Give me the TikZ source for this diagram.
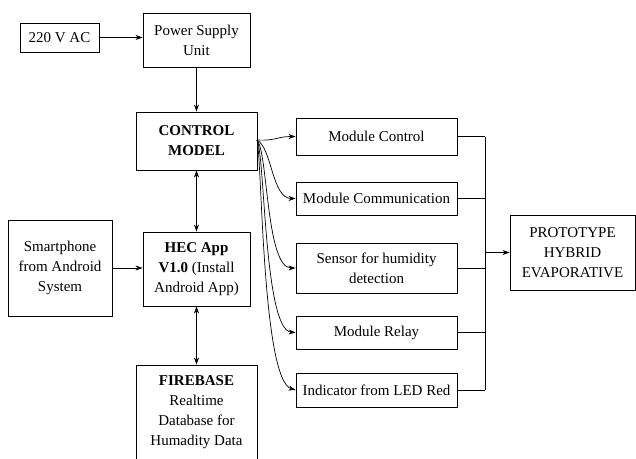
\documentclass[tikz,border=0pt]{standalone}
\usepackage{fontspec}
\setmainfont{Liberation Serif}
\usetikzlibrary{arrows.meta}
\begin{document}
\begin{tikzpicture}[x=1pt,y=-1pt,
    blok/.style={draw,line width=0.9pt,align=center,inner sep=1pt,
        font=\fontsize{15}{20}\selectfont},
    link/.style={line width=0.7pt,-{Stealth[length=7pt,width=5pt]}},
    bilink/.style={line width=0.7pt,{Stealth[length=7pt,width=5pt]}-{Stealth[length=7pt,width=5pt]}},
    bus/.style={line width=0.7pt}]
        \useasboundingbox (0,0) rectangle (636,458);
        % left column
        \node[blok,minimum width=79pt,minimum height=29pt] (ac) at (59.5,37.5) {220 V AC};
        \node[blok,minimum width=107pt,minimum height=54pt] (psu) at (196.5,40) {Power Supply\\Unit};
        \node[blok,minimum width=121pt,minimum height=58pt] (ctrl) at (196.5,141) {\textbf{CONTROL}\\\textbf{MODEL}};
        \node[blok,minimum width=107pt,minimum height=74pt] (hec) at (196.5,269) {\textbf{HEC App}\\\textbf{V1.0} (Install\\Android App)};
        \node[blok,minimum width=104pt,minimum height=96pt] (phone) at (60,268) {Smartphone\\from Android\\System};
        \node[blok,minimum width=121pt,minimum height=94pt] (fb) at (196.5,412) {\textbf{FIREBASE}\\Realtime\\Database for\\Humadity Data};
        % modules
        \node[blok,minimum width=161pt,minimum height=37pt] (mctl) at (376.5,136.5) {Module Control};
        \node[blok,minimum width=161pt,minimum height=33pt] (mcom) at (376.5,198.5) {Module Communication};
        \node[blok,minimum width=161pt,minimum height=50pt] (sens) at (376.5,268) {Sensor for humidity\\detection};
        \node[blok,minimum width=161pt,minimum height=33pt] (rel) at (376.5,332.5) {Module Relay};
        \node[blok,minimum width=161pt,minimum height=34pt] (ind) at (376.5,390) {Indicator from LED Red};
        \node[blok,minimum width=125pt,minimum height=75pt] (proto) at (572.5,252.5) {PROTOTYPE\\HYBRID\\EVAPORATIVE};
        \coordinate (fan) at (257,140);
        \coordinate (join) at (485,252.5);

        \draw[link] (ac) -- (psu.west |- ac);
        \draw[link] (psu) -- (ctrl);
        \draw[bilink] (ctrl) -- (hec);
        \draw[bilink] (hec) -- (fb);
        \draw[link] (phone) -- (hec.west |- phone);

        % fan of curved arrows
        \draw[link] (fan) .. controls (276,141) and (277,136.5) .. (mctl.west);
        \draw[link] (fan) .. controls (272,148) and (272,198.5) .. (mcom.west);
        \draw[link] (fan) .. controls (268,152) and (266,268) .. (sens.west);
        \draw[link] (fan) .. controls (265,155) and (264,330) .. (rel.west);
        \draw[link] (fan) .. controls (262,158) and (262,380) .. (ind.west);

        \foreach \m in {mctl,mcom,sens,rel,ind}
            \draw[bus] (\m.east) -- (join |- \m.east);
        \draw[bus] (join |- mctl.east) -- (join |- ind.east);
        \draw[link] (join) -- (proto.west);
\end{tikzpicture}
\end{document}
